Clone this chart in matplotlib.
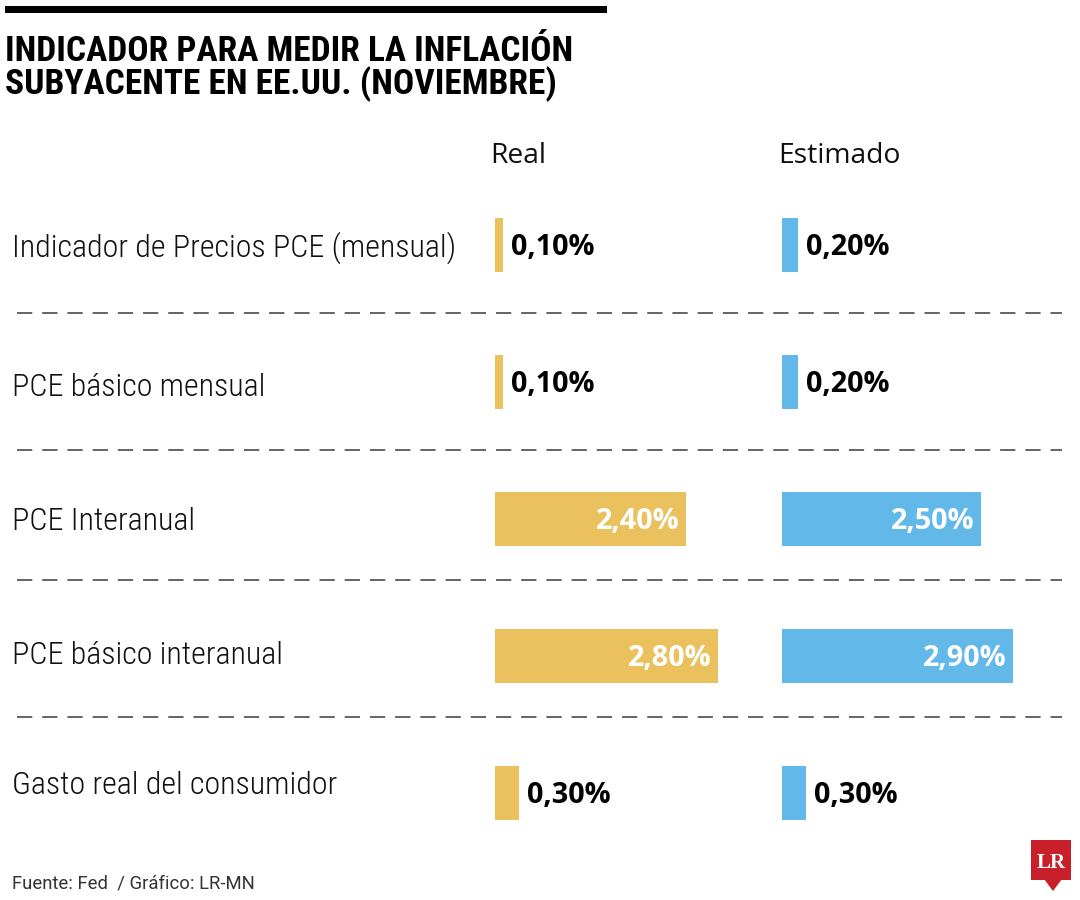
import matplotlib
matplotlib.use("Agg")
import matplotlib.pyplot as plt
from matplotlib import font_manager, transforms
from matplotlib.patches import Rectangle, Polygon

# ---------------- data ----------------
categories = [
    "Indicador de Precios PCE (mensual)",
    "PCE básico mensual",
    "PCE Interanual",
    "PCE básico interanual",
    "Gasto real del consumidor",
]
real_values = [0.10, 0.10, 2.40, 2.80, 0.30]
estimado_values = [0.20, 0.20, 2.50, 2.90, 0.30]
series_names = ["Real", "Estimado"]
title_lines = ["INDICADOR PARA MEDIR LA INFLACIÓN", "SUBYACENTE EN EE.UU. (NOVIEMBRE)"]
source_text = "Fuente: Fed  / Gráfico: LR-MN"

# ---------------- style / layout ----------------
W, H, DPI = 1080, 900, 100
YELLOW = "#EAC15C"
BLUE = "#62B8E8"
RED = "#C8202B"
TXT = "#111111"

available = {f.name for f in font_manager.fontManager.ttflist}
def pick(*names):
    for n in names:
        if n in available:
            return n
    return "DejaVu Sans"

F_TITLE = pick("Roboto Condensed", "Liberation Sans Narrow", "Roboto", "Open Sans")
F_LABEL = pick("Roboto Condensed", "Roboto", "Open Sans")
F_FOOT = pick("Roboto", "Open Sans")
F_BODY = pick("Open Sans", "Noto Sans", "Lato")
F_SERIF = pick("Liberation Serif", "DejaVu Serif")

fig = plt.figure(figsize=(W / DPI, H / DPI), dpi=DPI)
fig.patch.set_facecolor("white")
renderer = fig.canvas.get_renderer()

def fit(text, family, weight, target_px):
    t = fig.text(0, 0, text, fontsize=20, family=family, fontweight=weight)
    w = t.get_window_extent(renderer).width
    t.remove()
    return 20 * target_px / w

# overlay axes in pixel coordinates
ov = fig.add_axes([0, 0, 1, 1])
ov.set_xlim(0, W)
ov.set_ylim(H, 0)
ov.axis("off")

# top black rule
ov.add_patch(Rectangle((5, 6), 602, 6.5, color="black", lw=0))

# title
ts = min(fit(title_lines[0], F_TITLE, "bold", 602), 25.5)
ov.text(5, 61, title_lines[0], fontsize=ts, family=F_TITLE, fontweight="bold",
        color="black", va="baseline", ha="left")
ov.text(5, 94, title_lines[1], fontsize=ts, family=F_TITLE, fontweight="bold",
        color="black", va="baseline", ha="left")

# column headers
hs = fit("Estimado", F_BODY, "normal", 122)
ov.text(490, 163, series_names[0], fontsize=hs, family=F_BODY, color=TXT, va="baseline")
ov.text(778, 163, series_names[1], fontsize=hs, family=F_BODY, color=TXT, va="baseline")

# row geometry
row0, row_step = 245, 137
label_shift = [0, 2, -1, -4, -11]
ls = fit(categories[0], F_LABEL, "light", 443)
for i, cat in enumerate(categories):
    yc = row0 + row_step * i + label_shift[i]
    ov.text(12, yc + 12, cat, fontsize=ls, family=F_LABEL, fontweight="light",
            color=TXT, va="baseline")

# separators
for y in [313, 450, 580, 717]:
    ov.plot([17, 1062], [y, y], color="#3a3a3a", lw=1.1, ls=(0, (10, 6.5)))

# footer
fs = fit(source_text, F_FOOT, "normal", 241)
ov.text(12, 889, source_text, fontsize=fs, family=F_FOOT, fontweight="normal",
        color="#333333", va="baseline")

# LR logo
ov.add_patch(Rectangle((1031, 840), 40, 40, color=RED, lw=0))
ov.add_patch(Polygon([[1044, 879], [1062, 879], [1053, 891]], closed=True, color=RED, lw=0))
ov.text(1051, 868, "LR", fontsize=15, family=F_SERIF, fontweight="bold", color="white",
        ha="center", va="baseline")

# ---------------- bars ----------------
px_per_unit = 79.5
xmax = 3.1
ax_w = xmax * px_per_unit
top_px = row0 - row_step / 2
bot_px = row0 + row_step * (len(categories) - 1) + row_step / 2
vs = fit("0,10%", F_BODY, "bold", 84)

def bar_axes(left_px, values, color):
    ax = fig.add_axes([left_px / W, 1 - bot_px / H, ax_w / W, (bot_px - top_px) / H])
    ax.patch.set_alpha(0)
    ax.set_xlim(0, xmax)
    ax.set_ylim(len(values) - 0.5, -0.5)
    ax.axis("off")
    ypos = list(range(len(values)))
    ax.barh(ypos, values, height=54 / row_step, color=color, lw=0, left=0)
    trans = transforms.offset_copy(ax.transData, fig=fig, y=-10, units="dots")
    for y, v in zip(ypos, values):
        lab = f"{v:.2f}".replace(".", ",") + "%"
        if v > 1.0:
            ax.text(v - 6 / px_per_unit, y, lab, transform=trans, ha="right", va="baseline",
                    fontsize=vs, family=F_BODY, fontweight="bold", color="white", clip_on=False)
        else:
            ax.text(v + 8 / px_per_unit, y, lab, transform=trans, ha="left", va="baseline",
                    fontsize=vs, family=F_BODY, fontweight="bold", color="black", clip_on=False)
    return ax

bar_axes(495, real_values, YELLOW)
bar_axes(782, estimado_values, BLUE)

fig.savefig("out.png", dpi=DPI, facecolor="white")
